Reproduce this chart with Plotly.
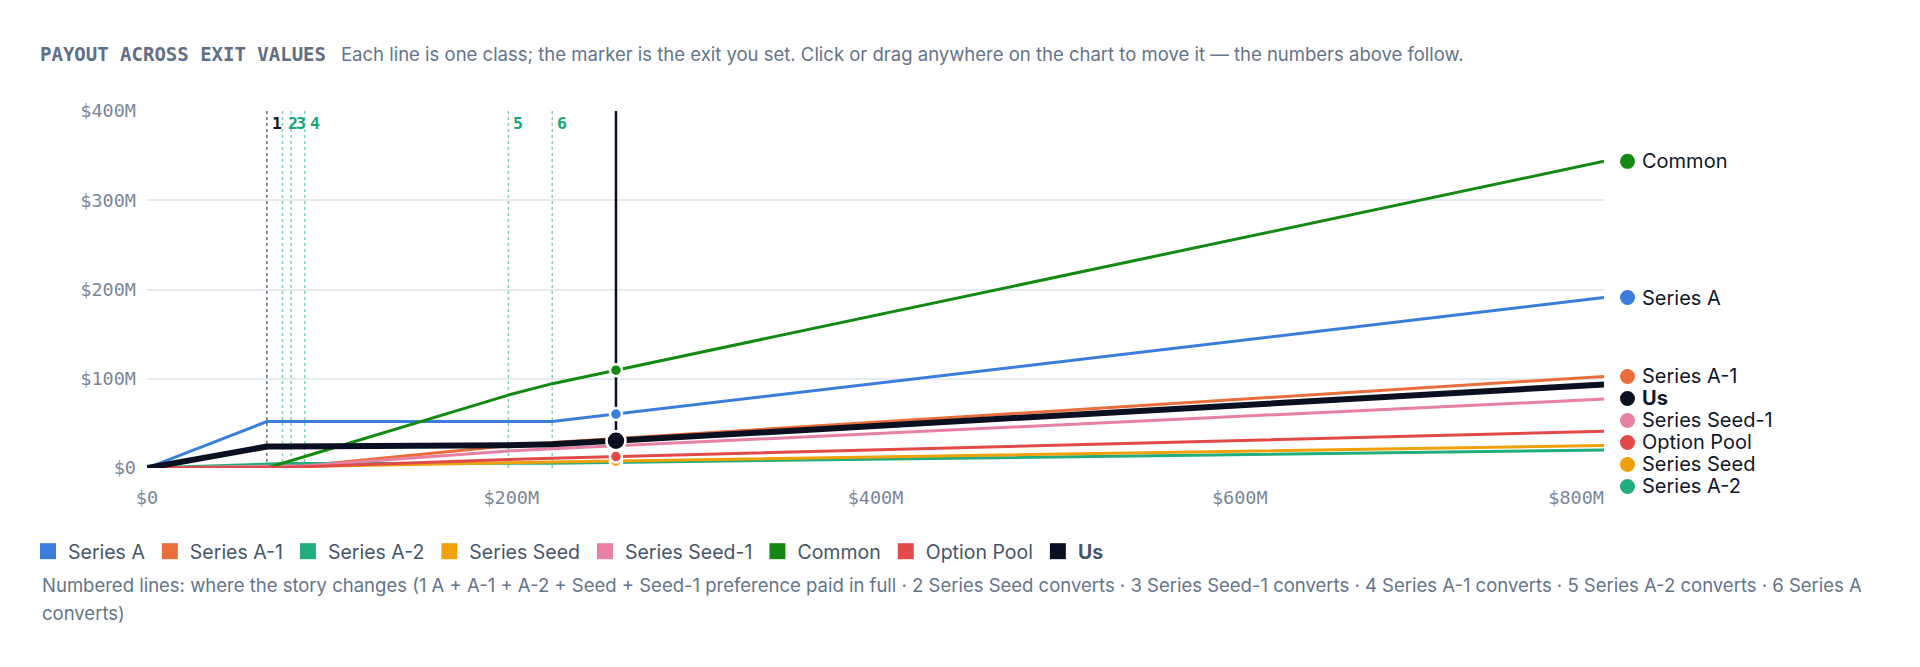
import numpy as np
import plotly.graph_objects as go

# ---------------- data (values in $M) ----------------
EXIT_M = [0, 65.8, 74.4, 79.1, 86.6, 198.4, 222.5, 800]

SERIES_NAMES = ["Series A", "Series A-1", "Series A-2", "Series Seed",
                "Series Seed-1", "Common", "Option Pool", "Us"]
SERIES_A = [0, 52, 52, 52, 52, 52, 52, 191]
SERIES_A1 = [0, 2, 2, 2, 2.5, 25, 28.5, 102.6]
SERIES_A2 = [0, 5, 5, 5, 5, 5, 5.3, 20.2]
SERIES_SEED = [0, 1, 1, 1.3, 1.8, 5.8, 6.7, 25.1]
SERIES_SEED1 = [0, 1.5, 1.5, 1.5, 2.5, 19, 21.5, 77.2]
COMMON = [0, 0, 5.3, 8.2, 12.8, 81.7, 94.5, 343.6]
OPTION_POOL = [0, 0, 0.6, 0.9, 1.5, 9.5, 11, 41.2]
US = [0, 24, 24, 24, 24, 25.5, 26.5, 93.5]

BREAKPOINTS_M = [65.8, 74.4, 79.1, 86.6, 198.4, 222.5]
BREAKPOINT_LABELS = ["1", "2", "3", "4", "5", "6"]
SELECTED_EXIT_M = 257.5

X_TICKS = [0, 200, 400, 600, 800]
X_TICK_TEXT = ["$0", "$200M", "$400M", "$600M", "$800M"]
Y_TICKS = [0, 100, 200, 300, 400]
Y_TICK_TEXT = ["$0", "$100M", "$200M", "$300M", "$400M"]

TITLE = "PAYOUT ACROSS EXIT VALUES"
SUBTITLE = ("Each line is one class; the marker is the exit you set. Click or drag "
            "anywhere on the chart to move it \u2014 the numbers above follow.")
NOTE_LINE1 = ("Numbered lines: where the story changes (1 A + A-1 + A-2 + Seed + Seed-1 "
              "preference paid in full \u00b7 2 Series Seed converts \u00b7 3 Series Seed-1 "
              "converts \u00b7 4 Series A-1 converts \u00b7 5 Series A-2 converts \u00b7 6 Series A")
NOTE_LINE2 = "converts)"

# ---------------- styles ----------------
COLORS = ["#3b7ddb", "#ea6e3c", "#22ad7c", "#eea10c", "#e87fa5", "#148a14", "#e24a4a", "#0b1020"]
SERIES_VALUES = [SERIES_A, SERIES_A1, SERIES_A2, SERIES_SEED, SERIES_SEED1, COMMON, OPTION_POOL, US]

W, H = 1920, 667
M_L, M_R, M_T, M_B = 147, 316, 111, 199
PLOT_W = W - M_L - M_R
PLOT_H = H - M_T - M_B
Y_MAX = 400
X_MAX = 800
PX_PER_M = PLOT_H / Y_MAX

SANS = "Inter, 'Noto Sans', sans-serif"
MONO = "'DejaVu Sans Mono', monospace"
GRAY = "#64748b"
INK = "#0f172a"
TXT = 18.5


def px_to_paper(px_x, px_y):
    return (px_x - M_L) / PLOT_W, (H - M_B - px_y) / PLOT_H


fig = go.Figure()

# series lines
for name, vals, col in zip(SERIES_NAMES, SERIES_VALUES, COLORS):
    fig.add_trace(go.Scatter(
        x=EXIT_M, y=vals, mode="lines", name=name, showlegend=False,
        line=dict(color=col, width=6 if name == "Us" else 3),
        hoverinfo="skip"))

# selected exit vertical line (on the secondary x axis, which matches the main one)
fig.add_trace(go.Scatter(
    x=[SELECTED_EXIT_M, SELECTED_EXIT_M], y=[0, Y_MAX], mode="lines", xaxis="x2",
    line=dict(color="#0b1020", width=2.5), showlegend=False, hoverinfo="skip"))

# markers at selected exit (drawn above the vertical line)
for name, vals, col in zip(SERIES_NAMES, SERIES_VALUES, COLORS):
    yv = float(np.interp(SELECTED_EXIT_M, EXIT_M, vals))
    big = name == "Us"
    fig.add_trace(go.Scatter(
        x=[SELECTED_EXIT_M], y=[yv], mode="markers", showlegend=False, xaxis="x2",
        marker=dict(color=col, size=19 if big else 12,
                    line=dict(color="white", width=2.5)),
        hoverinfo="skip"))

# legend entries (square swatches)
for name, col in zip(SERIES_NAMES, COLORS):
    label = "<b>Us</b>" if name == "Us" else name
    fig.add_trace(go.Scatter(
        x=[None], y=[None], mode="markers", name=label,
        marker=dict(symbol="square", size=16, color=col),
        showlegend=True))

shapes = []
annotations = []

# breakpoint lines + labels
for i, (bx, lab) in enumerate(zip(BREAKPOINTS_M, BREAKPOINT_LABELS)):
    first = i == 0
    shapes.append(dict(type="line", xref="x", yref="paper", x0=bx, x1=bx, y0=0, y1=1,
                       line=dict(color="#6b7280" if first else "#7fd3b4", width=1.5, dash="dot"),
                       layer="below"))
    annotations.append(dict(x=bx, xref="x", y=1, yref="paper", text="<b>%s</b>" % lab,
                            showarrow=False, xanchor="left", yanchor="top",
                            xshift=3, yshift=-1,
                            font=dict(family=MONO, size=16.5, color=INK if first else "#16a575")))

# right-side end labels with de-overlap (positions in paper units so they are never clipped)
ends = [(vals[-1], name, col) for name, vals, col in zip(SERIES_NAMES, SERIES_VALUES, COLORS)]
ends.sort(key=lambda t: -t[0])
gap_m = 22 / PX_PER_M
prev = None
for val, name, col in ends:
    y = val if prev is None else min(val, prev - gap_m)
    prev = y
    yp = y / Y_MAX
    shapes.append(dict(type="circle", xref="paper", yref="paper", xsizemode="pixel", ysizemode="pixel",
                       xanchor=1, yanchor=yp, x0=16, x1=31, y0=-7.5, y1=7.5,
                       fillcolor=col, line=dict(width=0)))
    annotations.append(dict(x=1, xref="paper", y=yp, yref="paper", xanchor="left", yanchor="middle",
                            xshift=36, showarrow=False,
                            text="<b>Us</b>" if name == "Us" else name,
                            font=dict(family=SANS, size=20, color=INK)))

# subtitle and notes
for txt, px_x, px_y in [(SUBTITLE, 339, 54), (NOTE_LINE1, 40, 585), (NOTE_LINE2, 40, 613)]:
    ax, ay = px_to_paper(px_x, px_y)
    annotations.append(dict(x=ax, xref="paper", y=ay, yref="paper", showarrow=False,
                            xanchor="left", yanchor="middle", text=txt,
                            font=dict(family=SANS, size=TXT, color=GRAY)))

tickfont = dict(family=MONO, size=18.5, color="#7a8699")
lx, ly = px_to_paper(28, 532)

fig.update_layout(
    width=W, height=H,
    margin=dict(l=M_L, r=M_R, t=M_T, b=M_B, pad=0),
    paper_bgcolor="white", plot_bgcolor="white",
    title=dict(text="<b>%s</b>" % TITLE, x=40 / W, xanchor="left", xref="container",
               y=1 - 54 / H, yanchor="middle", yref="container",
               font=dict(family=MONO, size=19, color="#5f6f86")),
    xaxis=dict(range=[0, X_MAX], tickvals=X_TICKS[:-1], ticktext=X_TICK_TEXT[:-1], showgrid=False,
               zeroline=False, showline=False, ticks="", ticklabelstandoff=16,
               tickfont=tickfont, fixedrange=True),
    xaxis2=dict(matches="x", overlaying="x", anchor="y", side="bottom",
                tickvals=X_TICKS[-1:], ticktext=X_TICK_TEXT[-1:], showgrid=False,
                zeroline=False, showline=False, ticks="", ticklabelstandoff=16,
                ticklabelposition="outside left", tickfont=tickfont),
    yaxis=dict(range=[0, Y_MAX], tickvals=Y_TICKS, ticktext=Y_TICK_TEXT, showgrid=True,
               gridcolor="#e5e9f0", gridwidth=1.5, zeroline=False, showline=False,
               ticks="", ticklabelstandoff=10, tickfont=tickfont, fixedrange=True),
    showlegend=True,
    legend=dict(orientation="h", x=lx, xanchor="left", y=ly, yanchor="top",
                font=dict(family=SANS, size=19.5, color="#475569"),
                bgcolor="rgba(0,0,0,0)", itemclick=False, itemdoubleclick=False),
    shapes=shapes, annotations=annotations,
    hovermode=False,
)

fig.write_html("out.html", config={"displayModeBar": False},
               post_script="document.body.style.margin='0';")
